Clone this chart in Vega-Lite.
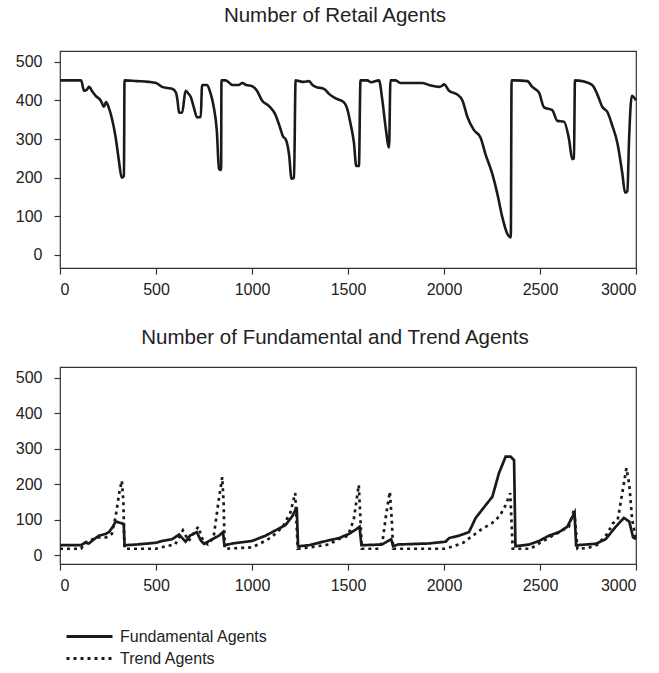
{
  "$schema": "https://vega.github.io/schema/vega-lite/v6.json",
  "background": "white",
  "padding": {"left": 14, "top": 4, "right": 10, "bottom": 5},
  "datasets": {
    "retail": [
      {"t": 0, "n": 452}, {"t": 110, "n": 452}, {"t": 125, "n": 425}, {"t": 140, "n": 428}, {"t": 151, "n": 435},
      {"t": 170, "n": 422}, {"t": 186, "n": 412}, {"t": 212, "n": 400}, {"t": 229, "n": 384}, {"t": 240, "n": 396},
      {"t": 255, "n": 380}, {"t": 271, "n": 352}, {"t": 290, "n": 304}, {"t": 307, "n": 243}, {"t": 321, "n": 200},
      {"t": 333, "n": 205}, {"t": 336, "n": 452}, {"t": 400, "n": 450}, {"t": 460, "n": 448}, {"t": 500, "n": 445},
      {"t": 532, "n": 435}, {"t": 560, "n": 432}, {"t": 584, "n": 430}, {"t": 604, "n": 420}, {"t": 612, "n": 400},
      {"t": 620, "n": 369}, {"t": 636, "n": 368}, {"t": 654, "n": 425}, {"t": 668, "n": 418}, {"t": 680, "n": 410},
      {"t": 698, "n": 380}, {"t": 714, "n": 356}, {"t": 733, "n": 357}, {"t": 740, "n": 440}, {"t": 766, "n": 440},
      {"t": 783, "n": 420}, {"t": 800, "n": 385}, {"t": 817, "n": 320}, {"t": 828, "n": 223}, {"t": 839, "n": 220},
      {"t": 841, "n": 452}, {"t": 863, "n": 452}, {"t": 898, "n": 440}, {"t": 930, "n": 440}, {"t": 950, "n": 445},
      {"t": 970, "n": 440}, {"t": 1000, "n": 437}, {"t": 1026, "n": 425}, {"t": 1052, "n": 400}, {"t": 1089, "n": 385},
      {"t": 1120, "n": 365}, {"t": 1146, "n": 330}, {"t": 1162, "n": 306}, {"t": 1175, "n": 300}, {"t": 1193, "n": 260},
      {"t": 1206, "n": 197}, {"t": 1219, "n": 200}, {"t": 1227, "n": 452}, {"t": 1245, "n": 450}, {"t": 1270, "n": 448},
      {"t": 1297, "n": 450}, {"t": 1315, "n": 440}, {"t": 1332, "n": 435}, {"t": 1375, "n": 430}, {"t": 1401, "n": 417},
      {"t": 1436, "n": 405}, {"t": 1479, "n": 395}, {"t": 1495, "n": 380}, {"t": 1513, "n": 340}, {"t": 1531, "n": 290},
      {"t": 1543, "n": 230}, {"t": 1557, "n": 230}, {"t": 1565, "n": 452}, {"t": 1600, "n": 452}, {"t": 1620, "n": 447},
      {"t": 1661, "n": 452}, {"t": 1679, "n": 400}, {"t": 1696, "n": 330}, {"t": 1714, "n": 278}, {"t": 1721, "n": 452},
      {"t": 1748, "n": 452}, {"t": 1774, "n": 445}, {"t": 1887, "n": 445}, {"t": 1922, "n": 440}, {"t": 1974, "n": 435},
      {"t": 1990, "n": 438}, {"t": 2000, "n": 442}, {"t": 2026, "n": 425}, {"t": 2070, "n": 415}, {"t": 2096, "n": 400},
      {"t": 2122, "n": 357}, {"t": 2156, "n": 323}, {"t": 2190, "n": 304}, {"t": 2216, "n": 261}, {"t": 2252, "n": 209},
      {"t": 2278, "n": 158}, {"t": 2304, "n": 97}, {"t": 2330, "n": 54}, {"t": 2348, "n": 45}, {"t": 2352, "n": 452},
      {"t": 2373, "n": 452}, {"t": 2434, "n": 450}, {"t": 2460, "n": 435}, {"t": 2495, "n": 420}, {"t": 2521, "n": 382},
      {"t": 2564, "n": 375}, {"t": 2590, "n": 347}, {"t": 2625, "n": 345}, {"t": 2651, "n": 300}, {"t": 2668, "n": 248},
      {"t": 2677, "n": 250}, {"t": 2682, "n": 452}, {"t": 2720, "n": 450}, {"t": 2772, "n": 440}, {"t": 2799, "n": 415},
      {"t": 2825, "n": 383}, {"t": 2851, "n": 370}, {"t": 2877, "n": 334}, {"t": 2903, "n": 290}, {"t": 2929, "n": 210},
      {"t": 2943, "n": 161}, {"t": 2955, "n": 165}, {"t": 2964, "n": 300}, {"t": 2978, "n": 412}, {"t": 3000, "n": 400}
    ],
    "agents": [
      {"series": "Fundamental Agents", "t": 0, "n": 28}, {"series": "Fundamental Agents", "t": 110, "n": 28},
      {"series": "Fundamental Agents", "t": 130, "n": 35}, {"series": "Fundamental Agents", "t": 150, "n": 33},
      {"series": "Fundamental Agents", "t": 178, "n": 45}, {"series": "Fundamental Agents", "t": 203, "n": 55},
      {"series": "Fundamental Agents", "t": 238, "n": 60}, {"series": "Fundamental Agents", "t": 255, "n": 65},
      {"series": "Fundamental Agents", "t": 275, "n": 80}, {"series": "Fundamental Agents", "t": 290, "n": 95},
      {"series": "Fundamental Agents", "t": 320, "n": 90}, {"series": "Fundamental Agents", "t": 332, "n": 88},
      {"series": "Fundamental Agents", "t": 336, "n": 28}, {"series": "Fundamental Agents", "t": 400, "n": 30},
      {"series": "Fundamental Agents", "t": 500, "n": 35}, {"series": "Fundamental Agents", "t": 532, "n": 40},
      {"series": "Fundamental Agents", "t": 584, "n": 45}, {"series": "Fundamental Agents", "t": 620, "n": 58},
      {"series": "Fundamental Agents", "t": 642, "n": 45}, {"series": "Fundamental Agents", "t": 654, "n": 38},
      {"series": "Fundamental Agents", "t": 677, "n": 55}, {"series": "Fundamental Agents", "t": 712, "n": 65},
      {"series": "Fundamental Agents", "t": 735, "n": 40}, {"series": "Fundamental Agents", "t": 750, "n": 32},
      {"series": "Fundamental Agents", "t": 793, "n": 45}, {"series": "Fundamental Agents", "t": 828, "n": 55},
      {"series": "Fundamental Agents", "t": 849, "n": 65}, {"series": "Fundamental Agents", "t": 856, "n": 28},
      {"series": "Fundamental Agents", "t": 900, "n": 33}, {"series": "Fundamental Agents", "t": 1000, "n": 40},
      {"series": "Fundamental Agents", "t": 1071, "n": 55}, {"series": "Fundamental Agents", "t": 1123, "n": 70},
      {"series": "Fundamental Agents", "t": 1175, "n": 85}, {"series": "Fundamental Agents", "t": 1210, "n": 110},
      {"series": "Fundamental Agents", "t": 1233, "n": 135}, {"series": "Fundamental Agents", "t": 1240, "n": 25},
      {"series": "Fundamental Agents", "t": 1297, "n": 28}, {"series": "Fundamental Agents", "t": 1349, "n": 35},
      {"series": "Fundamental Agents", "t": 1401, "n": 42}, {"series": "Fundamental Agents", "t": 1453, "n": 48},
      {"series": "Fundamental Agents", "t": 1505, "n": 60}, {"series": "Fundamental Agents", "t": 1540, "n": 72},
      {"series": "Fundamental Agents", "t": 1560, "n": 80}, {"series": "Fundamental Agents", "t": 1570, "n": 28},
      {"series": "Fundamental Agents", "t": 1677, "n": 30}, {"series": "Fundamental Agents", "t": 1703, "n": 38},
      {"series": "Fundamental Agents", "t": 1725, "n": 45}, {"series": "Fundamental Agents", "t": 1735, "n": 25},
      {"series": "Fundamental Agents", "t": 1760, "n": 30}, {"series": "Fundamental Agents", "t": 1922, "n": 33},
      {"series": "Fundamental Agents", "t": 2009, "n": 38}, {"series": "Fundamental Agents", "t": 2026, "n": 48},
      {"series": "Fundamental Agents", "t": 2078, "n": 55}, {"series": "Fundamental Agents", "t": 2130, "n": 65},
      {"series": "Fundamental Agents", "t": 2165, "n": 105}, {"series": "Fundamental Agents", "t": 2217, "n": 141},
      {"series": "Fundamental Agents", "t": 2252, "n": 165}, {"series": "Fundamental Agents", "t": 2286, "n": 231},
      {"series": "Fundamental Agents", "t": 2321, "n": 278}, {"series": "Fundamental Agents", "t": 2347, "n": 278},
      {"series": "Fundamental Agents", "t": 2365, "n": 268}, {"series": "Fundamental Agents", "t": 2372, "n": 25},
      {"series": "Fundamental Agents", "t": 2443, "n": 30}, {"series": "Fundamental Agents", "t": 2495, "n": 40},
      {"series": "Fundamental Agents", "t": 2547, "n": 55}, {"series": "Fundamental Agents", "t": 2599, "n": 65},
      {"series": "Fundamental Agents", "t": 2642, "n": 80}, {"series": "Fundamental Agents", "t": 2680, "n": 120},
      {"series": "Fundamental Agents", "t": 2688, "n": 28}, {"series": "Fundamental Agents", "t": 2790, "n": 32},
      {"series": "Fundamental Agents", "t": 2842, "n": 45}, {"series": "Fundamental Agents", "t": 2894, "n": 80},
      {"series": "Fundamental Agents", "t": 2937, "n": 105}, {"series": "Fundamental Agents", "t": 2965, "n": 95},
      {"series": "Fundamental Agents", "t": 2985, "n": 50}, {"series": "Fundamental Agents", "t": 3000, "n": 45},
      {"series": "Trend Agents", "t": 0, "n": 18}, {"series": "Trend Agents", "t": 110, "n": 18},
      {"series": "Trend Agents", "t": 130, "n": 35}, {"series": "Trend Agents", "t": 190, "n": 50},
      {"series": "Trend Agents", "t": 240, "n": 50}, {"series": "Trend Agents", "t": 270, "n": 60},
      {"series": "Trend Agents", "t": 290, "n": 110}, {"series": "Trend Agents", "t": 310, "n": 180},
      {"series": "Trend Agents", "t": 322, "n": 210}, {"series": "Trend Agents", "t": 330, "n": 150},
      {"series": "Trend Agents", "t": 336, "n": 18}, {"series": "Trend Agents", "t": 500, "n": 18},
      {"series": "Trend Agents", "t": 550, "n": 25}, {"series": "Trend Agents", "t": 600, "n": 30},
      {"series": "Trend Agents", "t": 640, "n": 70}, {"series": "Trend Agents", "t": 670, "n": 40},
      {"series": "Trend Agents", "t": 720, "n": 80}, {"series": "Trend Agents", "t": 745, "n": 40},
      {"series": "Trend Agents", "t": 770, "n": 30}, {"series": "Trend Agents", "t": 800, "n": 50},
      {"series": "Trend Agents", "t": 825, "n": 150}, {"series": "Trend Agents", "t": 845, "n": 220},
      {"series": "Trend Agents", "t": 852, "n": 150}, {"series": "Trend Agents", "t": 858, "n": 18},
      {"series": "Trend Agents", "t": 1000, "n": 22}, {"series": "Trend Agents", "t": 1050, "n": 35},
      {"series": "Trend Agents", "t": 1100, "n": 50}, {"series": "Trend Agents", "t": 1160, "n": 80},
      {"series": "Trend Agents", "t": 1200, "n": 120}, {"series": "Trend Agents", "t": 1225, "n": 175},
      {"series": "Trend Agents", "t": 1238, "n": 18}, {"series": "Trend Agents", "t": 1300, "n": 22},
      {"series": "Trend Agents", "t": 1400, "n": 30}, {"series": "Trend Agents", "t": 1450, "n": 45},
      {"series": "Trend Agents", "t": 1500, "n": 55}, {"series": "Trend Agents", "t": 1530, "n": 100},
      {"series": "Trend Agents", "t": 1556, "n": 198}, {"series": "Trend Agents", "t": 1565, "n": 100},
      {"series": "Trend Agents", "t": 1572, "n": 18}, {"series": "Trend Agents", "t": 1660, "n": 18},
      {"series": "Trend Agents", "t": 1680, "n": 40}, {"series": "Trend Agents", "t": 1700, "n": 120},
      {"series": "Trend Agents", "t": 1718, "n": 179}, {"series": "Trend Agents", "t": 1728, "n": 100},
      {"series": "Trend Agents", "t": 1735, "n": 18}, {"series": "Trend Agents", "t": 2000, "n": 18},
      {"series": "Trend Agents", "t": 2050, "n": 25}, {"series": "Trend Agents", "t": 2100, "n": 35},
      {"series": "Trend Agents", "t": 2150, "n": 55}, {"series": "Trend Agents", "t": 2200, "n": 75},
      {"series": "Trend Agents", "t": 2250, "n": 90}, {"series": "Trend Agents", "t": 2290, "n": 110},
      {"series": "Trend Agents", "t": 2320, "n": 140}, {"series": "Trend Agents", "t": 2345, "n": 175},
      {"series": "Trend Agents", "t": 2358, "n": 18}, {"series": "Trend Agents", "t": 2450, "n": 18},
      {"series": "Trend Agents", "t": 2500, "n": 35}, {"series": "Trend Agents", "t": 2550, "n": 50},
      {"series": "Trend Agents", "t": 2600, "n": 65}, {"series": "Trend Agents", "t": 2650, "n": 80},
      {"series": "Trend Agents", "t": 2678, "n": 130}, {"series": "Trend Agents", "t": 2695, "n": 18},
      {"series": "Trend Agents", "t": 2750, "n": 20}, {"series": "Trend Agents", "t": 2800, "n": 30},
      {"series": "Trend Agents", "t": 2850, "n": 60}, {"series": "Trend Agents", "t": 2880, "n": 90},
      {"series": "Trend Agents", "t": 2905, "n": 100}, {"series": "Trend Agents", "t": 2930, "n": 180},
      {"series": "Trend Agents", "t": 2950, "n": 245}, {"series": "Trend Agents", "t": 2965, "n": 200},
      {"series": "Trend Agents", "t": 2980, "n": 100}, {"series": "Trend Agents", "t": 3000, "n": 45}
    ]
  },
  "config": {
    "font": "Liberation Sans",
    "view": {"stroke": "#333", "strokeWidth": 1.2},
    "axis": {
      "domain": false, "grid": false, "title": null, "format": "d",
      "tickColor": "#333", "tickSize": 6, "tickWidth": 1.2,
      "labelFontSize": 16, "labelColor": "#222", "labelFont": "Liberation Sans"
    },
    "axisX": {"labelPadding": 7},
    "axisY": {"labelPadding": 12},
    "title": {"fontSize": 20.5, "fontWeight": "normal", "color": "#222", "font": "Liberation Sans", "offset": 25, "dx": -13},
    "concat": {"spacing": 28},
    "legend": {
      "orient": "none", "legendX": 16.5, "legendY": 572.5, "direction": "vertical", "title": null,
      "symbolType": "M-2,0L2,0", "symbolSize": 529, "symbolStrokeWidth": 3, "symbolStrokeColor": "#1a1a1a",
      "labelFontSize": 16, "labelColor": "#222", "labelFont": "Liberation Sans", "labelOffset": 17.5, "rowPadding": 1
    }
  },
  "vconcat": [
    {
      "title": "Number of Retail Agents",
      "width": 576, "height": 217,
      "data": {"name": "retail"},
      "mark": {"type": "line", "color": "#1a1a1a", "strokeWidth": 2.6, "interpolate": "monotone"},
      "encoding": {
        "x": {"field": "t", "type": "quantitative", "scale": {"domain": [0, 3000], "nice": false}, "axis": {"values": [0, 500, 1000, 1500, 2000, 2500, 3000]}},
        "y": {"field": "n", "type": "quantitative", "scale": {"domain": [-34, 528], "nice": false, "zero": false}, "axis": {"values": [0, 100, 200, 300, 400, 500]}}
      }
    },
    {
      "title": {"text": "Number of Fundamental and Trend Agents", "offset": 19},
      "width": 576, "height": 197,
      "data": {"name": "agents"},
      "mark": {"type": "line", "color": "#1a1a1a", "strokeWidth": 2.7},
      "encoding": {
        "x": {"field": "t", "type": "quantitative", "scale": {"domain": [0, 3000], "nice": false}, "axis": {"values": [0, 500, 1000, 1500, 2000, 2500, 3000]}},
        "y": {"field": "n", "type": "quantitative", "scale": {"domain": [-25, 531], "nice": false, "zero": false}, "axis": {"values": [0, 100, 200, 300, 400, 500]}},
        "strokeDash": {"field": "series", "type": "nominal", "scale": {"domain": ["Fundamental Agents", "Trend Agents"], "range": [[1, 0], [3, 4]]}}
      }
    }
  ]
}
